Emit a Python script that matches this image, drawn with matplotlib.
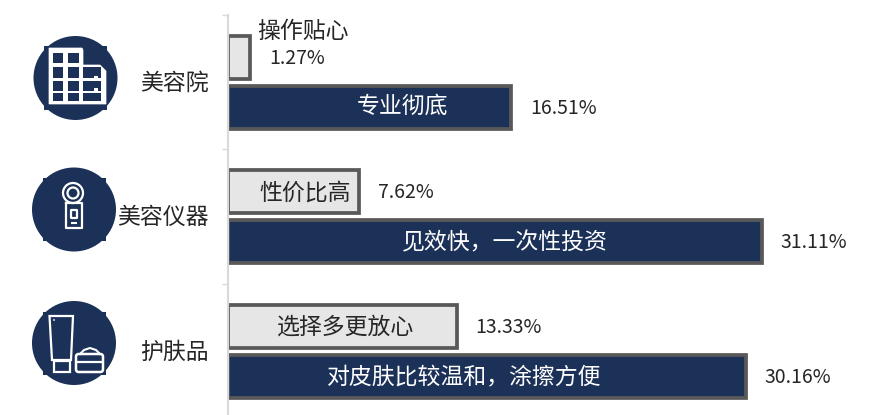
import matplotlib
matplotlib.use("Agg")
import matplotlib.pyplot as plt
from matplotlib.patches import Circle, Rectangle, FancyBboxPatch, Polygon

plt.rcParams['font.family'] = ['Noto Sans CJK SC', 'DejaVu Sans']

categories = ['美容院', '美容仪器', '护肤品']
gray_values = [1.27, 7.62, 13.33]
navy_values = [16.51, 31.11, 30.16]
gray_names = ['操作贴心', '性价比高', '选择多更放心']
navy_names = ['专业彻底', '见效快，一次性投资', '对皮肤比较温和，涂擦方便']

NAVY = '#1b3158'
LIGHT = '#e7e6e6'
EDGE = '#595959'
AXIS = '#d9d9d9'
TEXT = '#262626'
W, H = 880, 415
fig = plt.figure(figsize=(W / 100, H / 100), dpi=100, facecolor='white')

x0, top, band = 228, 15, 134.5
ax_h = band * 3
ax = fig.add_axes([x0 / W, (H - top - ax_h) / H, (W - x0) / W, ax_h / H])
ax.set_xlim(0, (W - x0) / 17.16)
ax.set_ylim(3, 0)
ax.patch.set_alpha(0)
for s in ['top', 'right', 'bottom']:
    ax.spines[s].set_visible(False)
ax.spines['left'].set_color(AXIS)
ax.spines['left'].set_linewidth(1.5)
ax.spines['left'].set_zorder(5)
ax.set_xticks([])
ax.set_yticks([0, 1, 2, 3])
ax.set_yticklabels([])
ax.tick_params(axis='y', length=4, width=1, color=AXIS)

ypos = [i + 0.5 for i in range(3)]
bh = 0.32
off = 0.186
ax.barh([y - off for y in ypos], gray_values, height=bh, color=LIGHT, edgecolor=EDGE, linewidth=2.7, zorder=2)
ax.barh([y + off for y in ypos], navy_values, height=bh, color=NAVY, edgecolor=EDGE, linewidth=2.7, zorder=2)

FS = 16.5
PS = 14
# pixel nudges of the in-bar names relative to the bar centres
gray_dx = [0, 12, 3]
navy_dx = [33, 10, -23]
navy_dy = [1, -1, -1]


def put(text, xy, dx, dy, **kw):
    ax.annotate(text, xy, xytext=(dx, dy), textcoords='offset pixels', va='center', zorder=3, **kw)


for i, y in enumerate(ypos):
    gv, nv = gray_values[i], navy_values[i]
    if i == 0:
        put(gray_names[i], (gv, y - off), 7, 26, fontsize=FS, color=TEXT, ha='left')
    else:
        put(gray_names[i], (gv / 2, y - off), gray_dx[i], -1, fontsize=FS, color=TEXT, ha='center')
    put(f'{gv:.2f}%', (gv, y - off), 19, -1, fontsize=PS, color=TEXT, ha='left')
    put(navy_names[i], (nv / 2, y + off), navy_dx[i], navy_dy[i], fontsize=FS, color='white', ha='center')
    put(f'{nv:.2f}%', (nv, y + off), 19, -1, fontsize=PS, color=TEXT, ha='left')

ov = fig.add_axes([0, 0, 1, 1], zorder=-1)
ov.set_xlim(0, W)
ov.set_ylim(H, 0)
ov.axis('off')

label_y = [83, 217, 352]
for c, ly in zip(categories, label_y):
    ov.text(209, ly, c, fontsize=FS, color=TEXT, ha='right', va='center')


def badge(cx, cy):
    ov.add_patch(Circle((cx, cy), 42, color=NAVY, lw=0))
    for dx, dy in [(-28, -28), (28, -28), (-28, 28), (28, 28)]:
        ov.add_patch(Rectangle((cx + dx - 3.5, cy + dy - 3.5), 7, 7, color=NAVY, lw=0))


def wline(xs, ys, lw=1.5):
    ov.plot(xs, ys, color='white', lw=lw, solid_capstyle='butt')


def wbox(x, y, w, h, lw=1.5, rad=1.5):
    ov.add_patch(FancyBboxPatch((x, y), w, h, boxstyle=f'round,pad=0,rounding_size={rad}',
                                fc='none', ec='white', lw=lw))


# building
badge(75.5, 78)
ov.add_patch(Polygon([(49, 48), (82, 48), (83, 50), (83, 65), (100, 65), (106, 71),
                      (106, 104), (49, 104)], closed=True, fc='white', ec='white', lw=0.5))
for cx, cw in [(53, 10), (68, 11)]:
    for ry, rh in [(53, 10), (67.5, 10.5), (81, 10), (93, 8)]:
        ov.add_patch(Rectangle((cx, ry), cw, rh, fc=NAVY, lw=0))
for ry, rh in [(67.5, 10.5), (81, 10), (93, 8)]:
    ov.add_patch(Rectangle((83, ry), 18, rh, fc=NAVY, lw=0))
for y in [76, 88]:
    ov.add_patch(Rectangle((94, y), 4, 4, fc='white', lw=0))

# device
badge(74, 209.5)
ov.add_patch(Circle((73, 193), 10, fc='none', ec='white', lw=1.6))
ov.add_patch(Circle((73, 193), 5.5, fc='none', ec='white', lw=1.6))
ov.plot([65.5, 65.5, 81.5, 81.5, 65.5], [203, 228, 228, 203, 203], color='white', lw=1.6)
wbox(71, 210, 6, 8, 1.6, 0.5)
wline([71, 77], [223, 223], 1.5)

# tube and jar
badge(74, 343)
ov.add_patch(Polygon([(49.5, 316), (73, 316), (71, 360), (52, 360)], closed=True, fc='none', ec='white', lw=1.6))
ov.add_patch(Rectangle((54, 361), 16, 11, fc='none', ec='white', lw=1.6))
ov.add_patch(Circle((54, 320), 0.9, fc='white', lw=0))
wbox(76, 354, 27, 18, 1.8, 2.5)
wline([76, 103], [362, 362], 1.6)
ov.plot([80, 84, 90, 96, 100], [354, 350, 348, 350, 354], color='white', lw=1.5)

fig.savefig('out.png', dpi=100, facecolor='white')
